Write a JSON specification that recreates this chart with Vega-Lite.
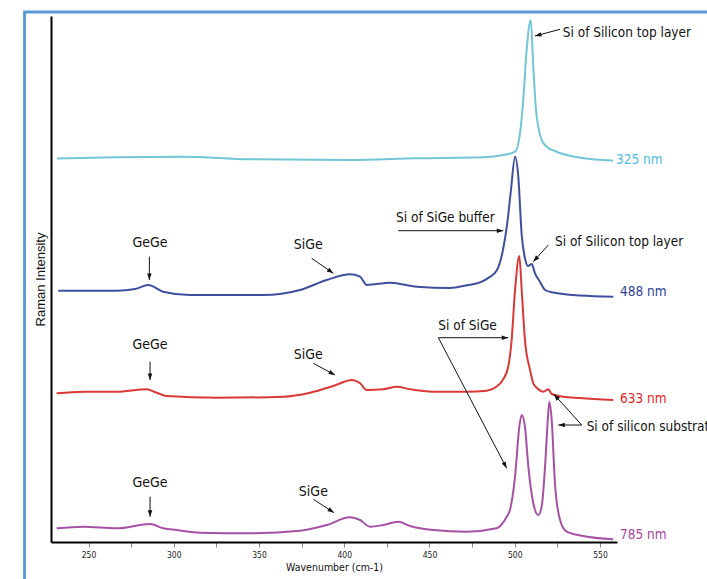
{
  "$schema": "https://vega.github.io/schema/vega-lite/v6.json",
  "width": 566,
  "height": 526,
  "autosize": {"type": "none"},
  "padding": {"left": 51, "top": 16, "right": 90, "bottom": 37},
  "background": "white",
  "config": {
    "view": {"stroke": null},
    "font": "DejaVu Sans Condensed, sans-serif"
  },
  "datasets": {
    "spectra": [
      {"s": "325 nm", "wn": 231.5, "inten": 72.91},
      {"s": "325 nm", "wn": 266.5, "inten": 73.14},
      {"s": "325 nm", "wn": 305.4, "inten": 73.25},
      {"s": "325 nm", "wn": 344.7, "inten": 72.76},
      {"s": "325 nm", "wn": 403.4, "inten": 72.62},
      {"s": "325 nm", "wn": 442.5, "inten": 72.95},
      {"s": "325 nm", "wn": 481.6, "inten": 73.14},
      {"s": "325 nm", "wn": 493.3, "inten": 73.57},
      {"s": "325 nm", "wn": 500.2, "inten": 74.2},
      {"s": "325 nm", "wn": 503.1, "inten": 77.7},
      {"s": "325 nm", "wn": 505.0, "inten": 84.03},
      {"s": "325 nm", "wn": 507.0, "inten": 93.54},
      {"s": "325 nm", "wn": 509.4, "inten": 99.24},
      {"s": "325 nm", "wn": 510.9, "inten": 90.36},
      {"s": "325 nm", "wn": 512.5, "inten": 82.13},
      {"s": "325 nm", "wn": 513.8, "inten": 78.95},
      {"s": "325 nm", "wn": 515.8, "inten": 76.43},
      {"s": "325 nm", "wn": 518.8, "inten": 75.15},
      {"s": "325 nm", "wn": 523.6, "inten": 74.33},
      {"s": "325 nm", "wn": 528.3, "inten": 73.76},
      {"s": "325 nm", "wn": 544.2, "inten": 72.81},
      {"s": "325 nm", "wn": 557.7, "inten": 72.53},

      {"s": "488 nm", "wn": 232.3, "inten": 47.78},
      {"s": "488 nm", "wn": 266.5, "inten": 47.78},
      {"s": "488 nm", "wn": 277.3, "inten": 48.1},
      {"s": "488 nm", "wn": 285.1, "inten": 48.86},
      {"s": "488 nm", "wn": 293.7, "inten": 47.59},
      {"s": "488 nm", "wn": 309.5, "inten": 46.96},
      {"s": "488 nm", "wn": 352.4, "inten": 46.96},
      {"s": "488 nm", "wn": 374.1, "inten": 47.91},
      {"s": "488 nm", "wn": 389.7, "inten": 49.81},
      {"s": "488 nm", "wn": 403.4, "inten": 50.89},
      {"s": "488 nm", "wn": 409.3, "inten": 50.44},
      {"s": "488 nm", "wn": 413.2, "inten": 48.86},
      {"s": "488 nm", "wn": 426.9, "inten": 49.3},
      {"s": "488 nm", "wn": 442.5, "inten": 48.54},
      {"s": "488 nm", "wn": 462.0, "inten": 48.3},
      {"s": "488 nm", "wn": 472.0, "inten": 48.8},
      {"s": "488 nm", "wn": 480.0, "inten": 49.4},
      {"s": "488 nm", "wn": 485.0, "inten": 50.3},
      {"s": "488 nm", "wn": 489.6, "inten": 51.7},
      {"s": "488 nm", "wn": 493.1, "inten": 55.5},
      {"s": "488 nm", "wn": 495.5, "inten": 60.27},
      {"s": "488 nm", "wn": 497.8, "inten": 66.92},
      {"s": "488 nm", "wn": 500.2, "inten": 73.25},
      {"s": "488 nm", "wn": 502.1, "inten": 69.45},
      {"s": "488 nm", "wn": 504.1, "inten": 58.37},
      {"s": "488 nm", "wn": 506.0, "inten": 53.99},
      {"s": "488 nm", "wn": 507.8, "inten": 52.47},
      {"s": "488 nm", "wn": 510.0, "inten": 52.85},
      {"s": "488 nm", "wn": 511.9, "inten": 51.08},
      {"s": "488 nm", "wn": 514.8, "inten": 49.49},
      {"s": "488 nm", "wn": 517.8, "inten": 47.91},
      {"s": "488 nm", "wn": 522.6, "inten": 47.43},
      {"s": "488 nm", "wn": 538.3, "inten": 46.86},
      {"s": "488 nm", "wn": 557.8, "inten": 46.64},

      {"s": "633 nm", "wn": 231.3, "inten": 28.27},
      {"s": "633 nm", "wn": 247.0, "inten": 28.57},
      {"s": "633 nm", "wn": 266.5, "inten": 28.57},
      {"s": "633 nm", "wn": 284.1, "inten": 29.03},
      {"s": "633 nm", "wn": 290.0, "inten": 28.38},
      {"s": "633 nm", "wn": 295.9, "inten": 27.76},
      {"s": "633 nm", "wn": 325.2, "inten": 27.43},
      {"s": "633 nm", "wn": 364.3, "inten": 27.62},
      {"s": "633 nm", "wn": 379.9, "inten": 28.38},
      {"s": "633 nm", "wn": 393.6, "inten": 29.66},
      {"s": "633 nm", "wn": 404.4, "inten": 30.8},
      {"s": "633 nm", "wn": 409.3, "inten": 30.17},
      {"s": "633 nm", "wn": 413.2, "inten": 28.9},
      {"s": "633 nm", "wn": 422.9, "inten": 29.03},
      {"s": "633 nm", "wn": 430.8, "inten": 29.52},
      {"s": "633 nm", "wn": 438.6, "inten": 29.03},
      {"s": "633 nm", "wn": 452.3, "inten": 28.57},
      {"s": "633 nm", "wn": 471.8, "inten": 28.57},
      {"s": "633 nm", "wn": 483.6, "inten": 28.76},
      {"s": "633 nm", "wn": 489.4, "inten": 29.56},
      {"s": "633 nm", "wn": 492.6, "inten": 30.6},
      {"s": "633 nm", "wn": 496.2, "inten": 33.33},
      {"s": "633 nm", "wn": 498.2, "inten": 38.4},
      {"s": "633 nm", "wn": 500.2, "inten": 47.91},
      {"s": "633 nm", "wn": 502.7, "inten": 54.37},
      {"s": "633 nm", "wn": 504.1, "inten": 47.91},
      {"s": "633 nm", "wn": 506.0, "inten": 38.4},
      {"s": "633 nm", "wn": 509.0, "inten": 32.7},
      {"s": "633 nm", "wn": 510.9, "inten": 30.17},
      {"s": "633 nm", "wn": 513.1, "inten": 29.28},
      {"s": "633 nm", "wn": 516.8, "inten": 28.57},
      {"s": "633 nm", "wn": 519.7, "inten": 29.03},
      {"s": "633 nm", "wn": 521.7, "inten": 28.14},
      {"s": "633 nm", "wn": 528.5, "inten": 27.62},
      {"s": "633 nm", "wn": 538.3, "inten": 27.38},
      {"s": "633 nm", "wn": 557.8, "inten": 27.0},

      {"s": "785 nm", "wn": 231.3, "inten": 2.6},
      {"s": "785 nm", "wn": 247.0, "inten": 2.91},
      {"s": "785 nm", "wn": 266.5, "inten": 2.6},
      {"s": "785 nm", "wn": 286.1, "inten": 3.42},
      {"s": "785 nm", "wn": 293.9, "inten": 2.6},
      {"s": "785 nm", "wn": 301.7, "inten": 2.28},
      {"s": "785 nm", "wn": 315.4, "inten": 1.77},
      {"s": "785 nm", "wn": 344.7, "inten": 1.65},
      {"s": "785 nm", "wn": 374.1, "inten": 2.15},
      {"s": "785 nm", "wn": 389.7, "inten": 3.23},
      {"s": "785 nm", "wn": 403.4, "inten": 4.7},
      {"s": "785 nm", "wn": 409.3, "inten": 4.18},
      {"s": "785 nm", "wn": 415.1, "inten": 2.91},
      {"s": "785 nm", "wn": 422.9, "inten": 3.23},
      {"s": "785 nm", "wn": 431.7, "inten": 3.86},
      {"s": "785 nm", "wn": 438.6, "inten": 3.04},
      {"s": "785 nm", "wn": 452.3, "inten": 2.28},
      {"s": "785 nm", "wn": 471.8, "inten": 1.96},
      {"s": "785 nm", "wn": 489.4, "inten": 2.6},
      {"s": "785 nm", "wn": 495.3, "inten": 4.81},
      {"s": "785 nm", "wn": 497.2, "inten": 6.08},
      {"s": "785 nm", "wn": 500.2, "inten": 12.41},
      {"s": "785 nm", "wn": 502.7, "inten": 21.92},
      {"s": "785 nm", "wn": 504.1, "inten": 24.14},
      {"s": "785 nm", "wn": 506.0, "inten": 21.92},
      {"s": "785 nm", "wn": 508.0, "inten": 14.32},
      {"s": "785 nm", "wn": 510.9, "inten": 7.36},
      {"s": "785 nm", "wn": 513.8, "inten": 5.13},
      {"s": "785 nm", "wn": 515.8, "inten": 6.71},
      {"s": "785 nm", "wn": 517.8, "inten": 14.32},
      {"s": "785 nm", "wn": 519.4, "inten": 23.19},
      {"s": "785 nm", "wn": 520.3, "inten": 26.67},
      {"s": "785 nm", "wn": 521.7, "inten": 23.19},
      {"s": "785 nm", "wn": 523.6, "inten": 11.16},
      {"s": "785 nm", "wn": 526.6, "inten": 4.18},
      {"s": "785 nm", "wn": 530.5, "inten": 1.96},
      {"s": "785 nm", "wn": 540.2, "inten": 1.14},
      {"s": "785 nm", "wn": 557.8, "inten": 0.51}
    ],
    "seriesLabels": [
      {"s": "325 nm", "wn": 559.4, "inten": 72.62},
      {"s": "488 nm", "wn": 561.8, "inten": 47.59},
      {"s": "633 nm", "wn": 561.8, "inten": 27.13},
      {"s": "785 nm", "wn": 561.8, "inten": 1.33}
    ],
    "arrows": [
      {"wn": 526.6, "inten": 97.47, "wn2": 511.9, "inten2": 96.2},
      {"wn": 431.7, "inten": 59.18, "wn2": 493.3, "inten2": 59.18},
      {"wn": 519.7, "inten": 56.46, "wn2": 510.9, "inten2": 53.29},
      {"wn": 285.7, "inten": 54.24, "wn2": 285.7, "inten2": 49.81},
      {"wn": 380.9, "inten": 53.94, "wn2": 393.6, "inten2": 51.08},
      {"wn": 286.1, "inten": 34.28, "wn2": 286.1, "inten2": 30.8},
      {"wn": 381.9, "inten": 33.97, "wn2": 394.6, "inten2": 31.75},
      {"wn": 286.1, "inten": 8.61, "wn2": 286.1, "inten2": 4.81},
      {"wn": 381.9, "inten": 8.12, "wn2": 394.0, "inten2": 5.57},
      {"wn": 455.2, "inten": 38.84, "wn2": 496.2, "inten2": 38.84},
      {"wn": 455.2, "inten": 38.84, "wn2": 495.3, "inten2": 14.01},
      {"wn": 539.3, "inten": 22.24, "wn2": 525.6, "inten2": 22.24},
      {"wn": 539.3, "inten": 22.24, "wn2": 523.0, "inten2": 28.08}
    ],
    "peakLabels": [
      {"t": "GeGe", "wn": 286.1, "inten": 56.79},
      {"t": "SiGe", "wn": 378.9, "inten": 56.46},
      {"t": "GeGe", "wn": 286.1, "inten": 37.45},
      {"t": "SiGe", "wn": 378.9, "inten": 35.55},
      {"t": "GeGe", "wn": 286.1, "inten": 11.16},
      {"t": "SiGe", "wn": 381.9, "inten": 9.56}
    ],
    "notes": [
      {"t": "Si of Silicon top layer", "wn": 528.2, "inten": 96.71},
      {"t": "Si of SiGe buffer", "wn": 430.4, "inten": 61.54},
      {"t": "Si of Silicon top layer", "wn": 523.6, "inten": 57.09},
      {"t": "Si of SiGe", "wn": 455.2, "inten": 41.06},
      {"t": "Si of silicon substrate", "wn": 542.2, "inten": 21.92}
    ],
    "frame": [
      {"wn": 212.5, "inten": 100.76, "wn2": 700, "inten2": -20}
    ]
  },
  "resolve": {"scale": {"color": "independent"}},
  "layer": [
    {
      "data": {"name": "frame"},
      "mark": {"type": "rect", "fill": null, "fillOpacity": 0, "stroke": "#5b9bd5", "strokeWidth": 3, "clip": false},
      "encoding": {
        "x": {"field": "wn", "type": "quantitative", "scale": {"domain": [228, 560], "nice": false, "zero": false},
          "axis": {"title": "Wavenumber (cm-1)", "values": [250, 275, 300, 325, 350, 375, 400, 425, 450, 475, 500, 525, 550],
            "labelExpr": "datum.value % 50 == 0 ? datum.label : ''", "grid": false, "domainColor": "#000", "domainWidth": 2,
            "tickColor": "#888", "tickSize": 5, "tickWidth": 1, "labelFontSize": 8.5, "labelColor": "#222", "labelPadding": 3,
            "labelFont": "DejaVu Sans Condensed, sans-serif",
            "titleFont": "DejaVu Sans Condensed, sans-serif",
            "titleFontSize": 10.5, "titleFontWeight": "normal", "titleColor": "#111", "titlePadding": 4}},
        "x2": {"field": "wn2"},
        "y": {"field": "inten", "type": "quantitative", "scale": {"domain": [0, 100], "nice": false, "zero": false},
          "axis": {"title": "Raman Intensity", "ticks": false, "labels": false, "grid": false, "domainColor": "#000", "domainWidth": 2,
            "titleFont": "Liberation Sans, Arial, sans-serif", "titleFontSize": 13, "titleFontWeight": "normal", "titleColor": "#111", "titlePadding": 4}},
        "y2": {"field": "inten2"}
      }
    },
    {
      "data": {"name": "spectra"},
      "mark": {"type": "line", "strokeWidth": 2, "interpolate": "monotone"},
      "encoding": {
        "x": {"field": "wn", "type": "quantitative"},
        "y": {"field": "inten", "type": "quantitative"},
        "color": {"field": "s", "type": "nominal", "legend": null,
          "scale": {"domain": ["325 nm", "488 nm", "633 nm", "785 nm"], "range": ["#72c6d6", "#3f4f9e", "#d93a37", "#a552a4"]}}
      }
    },
    {
      "data": {"name": "seriesLabels"},
      "mark": {"type": "text", "align": "left", "baseline": "middle", "fontSize": 13.5},
      "encoding": {
        "x": {"field": "wn", "type": "quantitative"},
        "y": {"field": "inten", "type": "quantitative"},
        "text": {"field": "s"},
        "color": {"field": "s", "type": "nominal", "legend": null,
          "scale": {"domain": ["325 nm", "488 nm", "633 nm", "785 nm"], "range": ["#4fbee0", "#2d3e98", "#e8252a", "#a3449d"]}}
      }
    },
    {
      "data": {"name": "arrows"},
      "mark": {"type": "rule", "color": "#111", "strokeWidth": 1},
      "encoding": {
        "x": {"field": "wn", "type": "quantitative"},
        "y": {"field": "inten", "type": "quantitative"},
        "x2": {"field": "wn2"},
        "y2": {"field": "inten2"}
      }
    },
    {
      "data": {"name": "arrows"},
      "transform": [
        {"calculate": "atan2((datum.wn2 - datum.wn) * 1.7048, (datum.inten2 - datum.inten) * 5.26) * 180 / PI", "as": "ang"}
      ],
      "mark": {"type": "point", "shape": "M0,0L0.7,2L-0.7,2Z", "filled": true, "color": "#111", "size": 42, "opacity": 1},
      "encoding": {
        "x": {"field": "wn2", "type": "quantitative"},
        "y": {"field": "inten2", "type": "quantitative"},
        "angle": {"field": "ang", "type": "quantitative", "scale": null}
      }
    },
    {
      "data": {"name": "peakLabels"},
      "mark": {"type": "text", "align": "center", "baseline": "middle", "fontSize": 14, "color": "#111"},
      "encoding": {
        "x": {"field": "wn", "type": "quantitative"},
        "y": {"field": "inten", "type": "quantitative"},
        "text": {"field": "t"}
      }
    },
    {
      "data": {"name": "notes"},
      "mark": {"type": "text", "align": "left", "baseline": "middle", "fontSize": 13.5, "color": "#111"},
      "encoding": {
        "x": {"field": "wn", "type": "quantitative"},
        "y": {"field": "inten", "type": "quantitative"},
        "text": {"field": "t"}
      }
    }
  ]
}
